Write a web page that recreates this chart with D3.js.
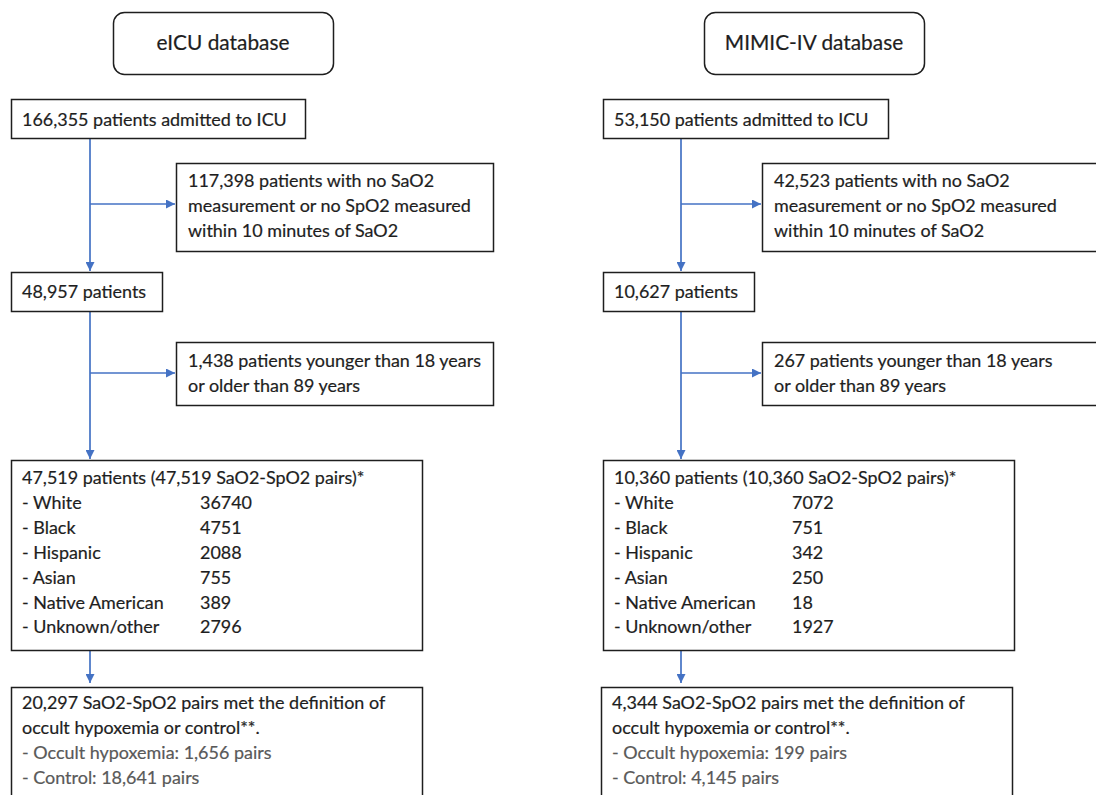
<!DOCTYPE html>
<html>
<head>
<meta charset="utf-8">
<script src="https://cdn.jsdelivr.net/npm/d3@7"></script>
<style>
  html, body { margin: 0; padding: 0; background: #fff; overflow: hidden; }
  svg { display: block; }
</style>
</head>
<body>
<div id="flow"></div>
<script>
// Cohort flow chart - eICU vs MIMIC-IV
var databases = ['eICU database', 'MIMIC-IV database'];
var admitted = ['166,355 patients admitted to ICU', '53,150 patients admitted to ICU'];
var excludedNoPair = [
  ['117,398 patients with no SaO2', 'measurement or no SpO2 measured', 'within 10 minutes of SaO2'],
  ['42,523 patients with no SaO2', 'measurement or no SpO2 measured', 'within 10 minutes of SaO2']
];
var remaining = ['48,957 patients', '10,627 patients'];
var excludedAge = [
  ['1,438 patients younger than 18 years', 'or older than 89 years'],
  ['267 patients younger than 18 years', 'or older than 89 years']
];
var cohort = ['47,519 patients (47,519 SaO2-SpO2 pairs)*', '10,360 patients (10,360 SaO2-SpO2 pairs)*'];
var races = ['White', 'Black', 'Hispanic', 'Asian', 'Native American', 'Unknown/other'];
var raceCounts = [
  [36740, 4751, 2088, 755, 389, 2796],
  [7072, 751, 342, 250, 18, 1927]
];
var pairsMet = [
  ['20,297 SaO2-SpO2 pairs met the definition of', 'occult hypoxemia or control**.'],
  ['4,344 SaO2-SpO2 pairs met the definition of', 'occult hypoxemia or control**.']
];
var pairSplit = [
  ['Occult hypoxemia: 1,656 pairs', 'Control: 18,641 pairs'],
  ['Occult hypoxemia: 199 pairs', 'Control: 4,145 pairs']
];

(function() {
  'use strict';

  var width = 1096, height = 795;
  var blue = '#4472c4', ink = '#1e1e1e', grey = '#595959';
  var font = 'Lato, "Open Sans", sans-serif';

  var svg = d3.select('#flow').append('svg').attr('width', width).attr('height', height);

  // fit body font to Calibri-ish widths in the original
  function fit(str, target, base) {
    var t = svg.append('text').attr('font-family', font).attr('font-size', base).text(str);
    var w = t.node().getComputedTextLength();
    t.remove();
    return base * target / w;
  }
  var fs = fit(admitted[0], 265, 20);
  var titleFs = fit(databases[0], 133, 20);
  var lh = 24.9;

  var defs = svg.append('defs');
  defs.append('marker').attr('id', 'arr').attr('viewBox', '0 0 10 10')
    .attr('refX', 10).attr('refY', 5).attr('markerWidth', 9).attr('markerHeight', 9)
    .attr('markerUnits', 'userSpaceOnUse').attr('orient', 'auto')
    .append('path').attr('d', 'M0,0L10,5L0,10z').attr('fill', blue);

  // column offset scale: left column at 0, right column shifted
  var col = d3.scaleOrdinal().domain(databases).range([0, 591]);

  // vertical layout of the rows
  var y = {
    title: [12, 62], admit: [99, 39], excl1: [163, 88], remain: [272, 39],
    excl2: [342, 63], cohort: [460, 190], met: [687, 140]
  };

  function box(g, x, yy, w, h, rx) {
    g.append('rect').attr('x', x + 0.5).attr('y', yy + 0.5).attr('width', w).attr('height', h)
      .attr('rx', rx || 0).attr('fill', '#fff').attr('stroke', ink).attr('stroke-width', 1.5);
  }
  function lines(g, x, yy, arr, color) {
    g.append('g').selectAll('text').data(arr).enter().append('text')
      .attr('x', x).attr('y', function(d, i) { return yy + i * lh; })
      .attr('font-family', font).attr('font-size', fs).attr('fill', color || ink)
      .attr('stroke', color || ink).attr('stroke-width', 0.2)
      .text(function(d) { return d; });
  }
  function arrow(g, x1, y1, x2, y2) {
    g.append('line').attr('x1', x1).attr('y1', y1).attr('x2', x2).attr('y2', y2)
      .attr('stroke', blue).attr('stroke-width', 1.7).attr('marker-end', 'url(#arr)');
  }

  databases.forEach(function(db, i) {
    var g = svg.append('g').attr('transform', 'translate(' + col(db) + ',0)');
    var stem = 90, mainX = 11 + (i ? 1 : 0), exX = 176 - (i ? 5 : 0);

    // connectors first so boxes sit on top
    arrow(g, stem, y.admit[0] + y.admit[1], stem, y.remain[0] - 1);
    arrow(g, stem, y.excl1[0] + 41, exX - 1, y.excl1[0] + 41);
    arrow(g, stem, y.remain[0] + y.remain[1], stem, y.cohort[0] - 1);
    arrow(g, stem, y.excl2[0] + 31, exX - 1, y.excl2[0] + 31);
    arrow(g, stem, y.cohort[0] + y.cohort[1], stem, y.met[0] - 4);

    // database title
    var tx = 113, tw = 220;
    box(g, tx, y.title[0], tw, y.title[1], 11);
    g.append('text').attr('x', tx + tw / 2).attr('y', y.title[0] + y.title[1] / 2 + titleFs * 0.35)
      .attr('text-anchor', 'middle').attr('font-family', font).attr('font-size', titleFs)
      .attr('fill', ink).attr('stroke', ink).attr('stroke-width', 0.2).text(db);

    box(g, mainX, y.admit[0], i ? 285 : 294, y.admit[1]);
    lines(g, mainX + 11, y.admit[0] + 27, [admitted[i]]);

    box(g, exX, y.excl1[0], i ? 360 : 317, y.excl1[1]);
    lines(g, exX + 12, y.excl1[0] + 24, excludedNoPair[i]);

    box(g, 11 + (i ? 1 : 0), y.remain[0], 151, y.remain[1]);
    lines(g, 22 + (i ? 1 : 0), y.remain[0] + 26, [remaining[i]]);

    box(g, exX, y.excl2[0], i ? 360 : 317, y.excl2[1]);
    lines(g, exX + 12, y.excl2[0] + 25, excludedAge[i]);

    box(g, mainX, y.cohort[0], 411, y.cohort[1]);
    lines(g, mainX + 11, y.cohort[0] + 24, [cohort[i]]);
    lines(g, mainX + 11, y.cohort[0] + 24 + lh, races.map(function(r) { return '- ' + r; }));
    lines(g, mainX + 189, y.cohort[0] + 24 + lh, raceCounts[i].map(String));

    box(g, 11 + (i ? -1 : 0), y.met[0], 411, y.met[1]);
    lines(g, 22 + (i ? -1 : 0), y.met[0] + 22, pairsMet[i]);
    lines(g, 22 + (i ? -1 : 0), y.met[0] + 22 + 2 * lh, pairSplit[i].map(function(s) { return '- ' + s; }), grey);
  });
})();
</script>
</body>
</html>
